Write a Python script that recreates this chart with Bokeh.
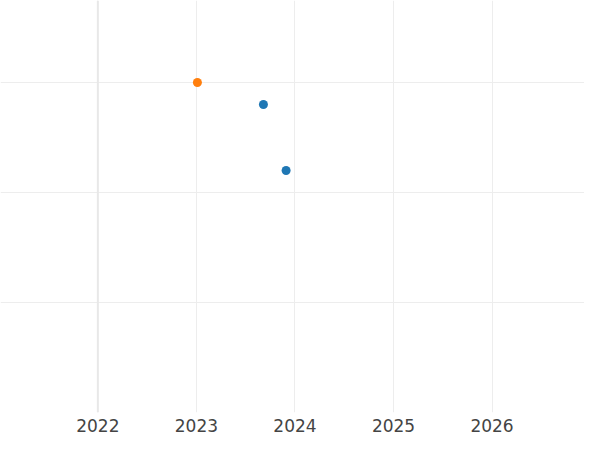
from bokeh.plotting import figure
from bokeh.models import FixedTicker, Range1d, Span
from bokeh.embed import file_html
from bokeh.resources import INLINE

# Data (decimal years, values)
blue_x = [2023.68, 2023.91]
blue_y = [2.80, 2.20]
orange_x = [2023.01]
orange_y = [3.00]
year_ticks = [2022, 2023, 2024, 2025, 2026]
y_grid_ticks = [1, 2, 3]

p = figure(width=584, height=434, output_backend="svg", toolbar_location=None,
           x_range=Range1d(2021.012, 2026.938), y_range=Range1d(0, 3.746),
           y_axis_location=None, min_border_left=0, min_border_right=0,
           min_border_top=0, min_border_bottom=0)
p.outline_line_color = None
p.background_fill_color = "white"
p.border_fill_color = "white"

p.xaxis.ticker = FixedTicker(ticks=year_ticks)
p.xaxis.axis_line_color = None
p.xaxis.major_tick_line_color = None
p.xaxis.minor_tick_line_color = None
p.xaxis.major_tick_out = 0
p.xaxis.major_tick_in = 0
p.xaxis.major_label_standoff = 6
p.xaxis.major_label_text_font = "DejaVu Sans"
p.xaxis.major_label_text_font_size = "17px"
p.xaxis.major_label_text_color = "#444444"

p.xgrid.ticker = FixedTicker(ticks=year_ticks)
p.xgrid.grid_line_color = "#ededed"
p.ygrid.ticker = FixedTicker(ticks=y_grid_ticks)
p.ygrid.grid_line_color = "#ededed"

p.add_layout(Span(location=year_ticks[0], dimension="height", line_color="#e8e8e8", line_width=2))

p.scatter(blue_x, blue_y, size=9, color="#1f77b4", line_color=None)
p.scatter(orange_x, orange_y, size=9, color="#ff7f0e", line_color=None)

open("out.html", "w").write(file_html(p, INLINE))
